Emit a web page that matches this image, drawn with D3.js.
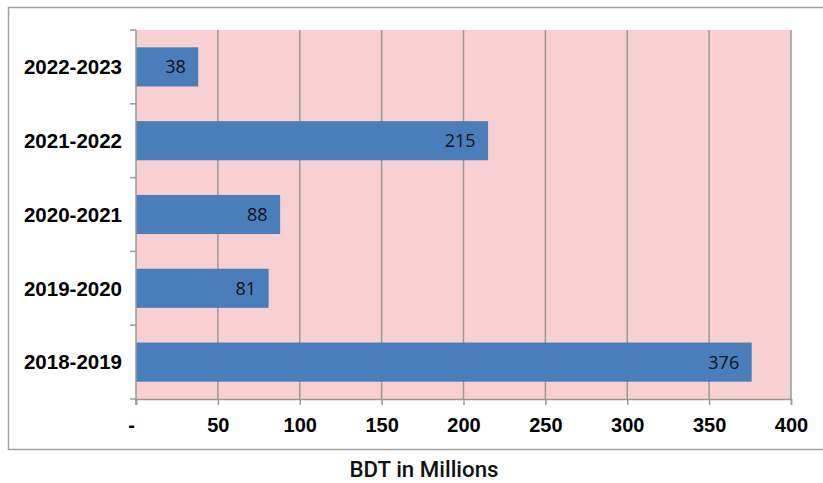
<!DOCTYPE html>
<html>
<head>
<meta charset="utf-8">
<script src="https://cdn.jsdelivr.net/npm/d3@7"></script>
<style>
  body { margin: 0; background: #fff; }
  svg { display: block; }
</style>
</head>
<body>
<div id="chart"></div>
<script>
// chart values
const years = ['2022-2023', '2021-2022', '2020-2021', '2019-2020', '2018-2019'];
const amounts = [38, 215, 88, 81, 376];
const xTicks = [0, 50, 100, 150, 200, 250, 300, 350, 400];

const width = 823;
const height = 483;
const plot = { left: 136, right: 791, top: 30, bottom: 399 };

const svg = d3.select('#chart')
  .append('svg')
  .attr('width', width)
  .attr('height', height);

// outer frame
svg.append('rect')
  .attr('x', 8.5).attr('y', 7.5)
  .attr('width', 840).attr('height', 442)
  .attr('fill', 'none')
  .attr('stroke', '#a0a0a0')
  .attr('stroke-width', 1.5);

const x = d3.scaleLinear().domain([0, 400]).range([plot.left, plot.right]);
const y = d3.scaleBand().domain(years).range([plot.top, plot.bottom]).paddingInner(0.47).paddingOuter(0.235);

// plot background
svg.append('rect')
  .attr('x', plot.left).attr('y', plot.top)
  .attr('width', plot.right - plot.left).attr('height', plot.bottom - plot.top)
  .attr('fill', '#f9d0d1');

// vertical gridlines
svg.append('g')
  .selectAll('line')
  .data(xTicks.slice(1))
  .join('line')
  .attr('x1', d => x(d)).attr('x2', d => x(d))
  .attr('y1', plot.top).attr('y2', plot.bottom)
  .attr('stroke', '#989898')
  .attr('stroke-width', 1.5);

// bars
svg.append('g')
  .selectAll('rect')
  .data(years)
  .join('rect')
  .attr('x', x(0))
  .attr('y', d => y(d))
  .attr('width', (d, i) => x(amounts[i]) - x(0))
  .attr('height', y.bandwidth())
  .attr('fill', '#4a7ebb');

// value labels
svg.append('g')
  .selectAll('text')
  .data(years)
  .join('text')
  .attr('x', (d, i) => x(amounts[i]) - 12.5)
  .attr('y', d => y(d) + y.bandwidth() / 2)
  .attr('dy', '0.36em')
  .attr('text-anchor', 'end')
  .attr('font-family', 'Open Sans, sans-serif')
  .attr('font-size', 18)
  .attr('fill', '#111')
  .text((d, i) => amounts[i]);

// x axis
const xAxis = svg.append('g')
  .attr('transform', `translate(0, ${plot.bottom})`)
  .call(d3.axisBottom(x).tickValues(xTicks).tickSize(6).tickPadding(13)
    .tickFormat(d => d === 0 ? '-' : d));
xAxis.select('.domain').attr('stroke', '#989898').attr('stroke-width', 1.5);
xAxis.selectAll('.tick line').attr('stroke', '#989898').attr('stroke-width', 1.5);
xAxis.selectAll('text')
  .attr('font-family', 'Liberation Sans, Arial, sans-serif')
  .attr('font-weight', 'bold')
  .attr('font-size', 20)
  .attr('fill', '#000')
  .attr('dx', d => d === 0 ? -5 : 0); // excel puts the dash a bit left

// y axis with ticks at category boundaries
const yAxis = svg.append('g')
  .attr('transform', `translate(${plot.left}, 0)`);
yAxis.append('line')
  .attr('x1', 0).attr('x2', 0)
  .attr('y1', plot.top).attr('y2', plot.bottom + 6)
  .attr('stroke', '#989898').attr('stroke-width', 1.5);
const step = (plot.bottom - plot.top) / years.length;
yAxis.selectAll('line.tk')
  .data(d3.range(years.length + 1))
  .join('line')
  .attr('class', 'tk')
  .attr('x1', -6).attr('x2', 0)
  .attr('y1', d => plot.top + d * step).attr('y2', d => plot.top + d * step)
  .attr('stroke', '#989898').attr('stroke-width', 1.5);
yAxis.selectAll('text')
  .data(years)
  .join('text')
  .attr('x', -14)
  .attr('y', d => y(d) + y.bandwidth() / 2)
  .attr('dy', '0.36em')
  .attr('text-anchor', 'end')
  .attr('font-family', 'Liberation Sans, Arial, sans-serif')
  .attr('font-weight', 'bold')
  .attr('font-size', 20.5)
  .attr('fill', '#000')
  .text(d => d);

// axis title
svg.append('text')
  .attr('x', 424)
  .attr('y', 477)
  .attr('text-anchor', 'middle')
  .attr('font-family', 'Roboto, sans-serif')
  .attr('font-weight', 500)
  .attr('font-size', 21.5)
  .attr('textLength', 149)
  .attr('lengthAdjust', 'spacingAndGlyphs')
  .attr('fill', '#111')
  .text('BDT in Millions');
</script>
</body>
</html>
